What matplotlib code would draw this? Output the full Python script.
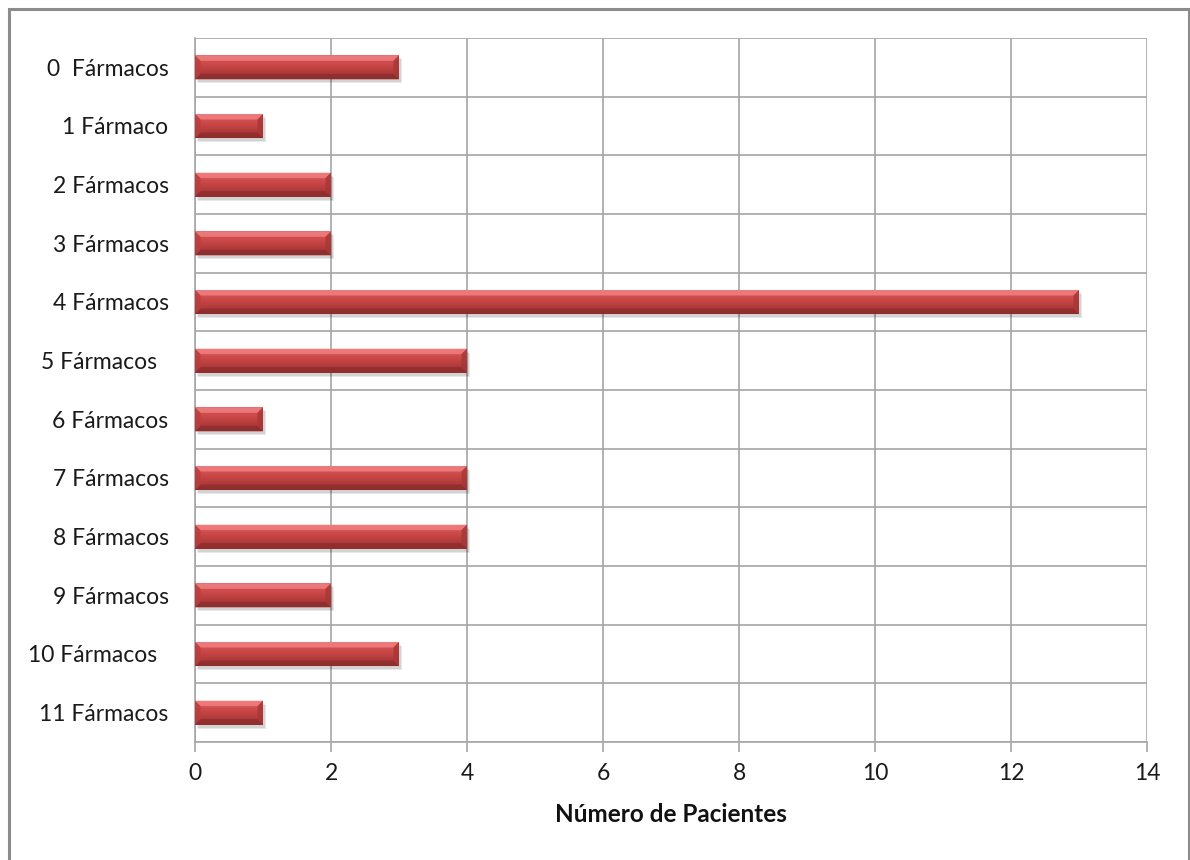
import numpy as np
import matplotlib
matplotlib.use("Agg")
import matplotlib.pyplot as plt
from matplotlib.colors import LinearSegmentedColormap
from matplotlib.patches import Rectangle, Polygon
import matplotlib.transforms as mtransforms

categories = ["0  Fármacos", "1 Fármaco", "2 Fármacos", "3 Fármacos", "4 Fármacos",
              "5 Fármacos  ", "6 Fármacos", "7 Fármacos", "8 Fármacos", "9 Fármacos",
              "10 Fármacos  ", "11 Fármacos"]
pacientes = [3, 1, 2, 2, 13, 4, 1, 4, 4, 2, 3, 1]
xticks = [0, 2, 4, 6, 8, 10, 12, 14]
xlabel = "Número de Pacientes"

plt.rcParams["font.family"] = ["Lato", "DejaVu Sans"]

fig = plt.figure(figsize=(11.9, 8.6), dpi=100)
ax = fig.add_axes([195 / 1190, 1 - 742 / 860, 952 / 1190, 704 / 860])

# outer chart frame
fig.add_artist(Rectangle((9 / 1190, -0.01), 1180 / 1190, 1 - 9 / 860 + 0.01,
                         transform=fig.transFigure, fill=False,
                         edgecolor="#8c8c8c", linewidth=2.2))

ax.set_xlim(0, 14)
ax.set_ylim(len(categories) - 0.5, -0.5)

y = np.arange(len(categories))
bar_h = 0.41
bars = ax.barh(y, pacientes, height=bar_h, color="#c84848", zorder=3)

# beveled red fill: vertical gradient clipped to each bar
shade = LinearSegmentedColormap.from_list(
    "bevel", [(0.0, "#9c3232"), (0.3, "#b43c3c"), (0.55, "#c84646"),
              (0.8, "#d65252"), (1.0, "#e06262")])
grad = np.linspace(0, 1, 64).reshape(-1, 1)
bev = 0.055  # bevel width in inches
for b in bars:
    x0, yb = b.get_x(), b.get_y()
    w, h = b.get_width(), b.get_height()
    # soft shadow under the bar
    for k, a in ((3, 0.09), (2, 0.09)):
        off = mtransforms.offset_copy(ax.transData, fig=fig, x=k, y=-k - 1, units="dots")
        ax.add_patch(Rectangle((x0, yb), w, h, transform=off, facecolor="#000000",
                               alpha=a, edgecolor="none", zorder=2))
    im = ax.imshow(grad, cmap=shade, aspect="auto", origin="lower",
                   extent=(x0, x0 + w, yb + h, yb), zorder=4, interpolation="bilinear")
    im.set_clip_path(b)

    # bevel frame, drawn in inches around the bar corners
    p_tl = ax.transData.transform((x0, yb))
    p_br = ax.transData.transform((x0 + w, yb + h))
    W = (p_br[0] - p_tl[0]) / fig.dpi
    H = (p_tl[1] - p_br[1]) / fig.dpi
    tr = fig.dpi_scale_trans + mtransforms.ScaledTranslation(x0, yb + h, ax.transData)
    faces = [
        ([(0, H), (W, H), (W - bev, H - bev), (bev, H - bev)], "#f08282"),   # top
        ([(0, 0), (W, 0), (W - bev, bev), (bev, bev)], "#8c2c2c"),           # bottom
        ([(0, 0), (bev, bev), (bev, H - bev), (0, H)], "#b83e3e"),           # left
        ([(W, 0), (W - bev, bev), (W - bev, H - bev), (W, H)], "#a83636"),   # right
    ]
    for verts, col in faces:
        ax.add_patch(Polygon(verts, closed=True, transform=tr, facecolor=col,
                             edgecolor="none", alpha=0.8, zorder=5))

ax.set_xticks(xticks)
ax.set_xticklabels([str(t) for t in xticks])
ax.set_yticks(y)
ax.set_yticklabels(categories)
ax.set_yticks(np.arange(len(categories) + 1) - 0.5, minor=True)

ax.grid(True, axis="x", which="major", color="#a6a6a6", linewidth=1.2, zorder=0)
ax.grid(True, axis="y", which="minor", color="#a6a6a6", linewidth=1.2, zorder=0)
ax.set_axisbelow(True)

for side in ["top", "right"]:
    ax.spines[side].set_visible(False)
for side in ["left", "bottom"]:
    ax.spines[side].set_color("#a6a6a6")
    ax.spines[side].set_linewidth(1.2)

ax.tick_params(axis="x", which="major", length=7, color="#a6a6a6", width=1.2,
               labelsize=16.5, pad=8, labelcolor="#1a1a1a")
ax.tick_params(axis="y", which="both", length=0, labelsize=16.5, pad=19,
               labelcolor="#1a1a1a")

ax.set_xlabel(xlabel, fontsize=17.5, fontweight="bold", labelpad=14, color="#111111")

fig.savefig("out.png", dpi=100)
